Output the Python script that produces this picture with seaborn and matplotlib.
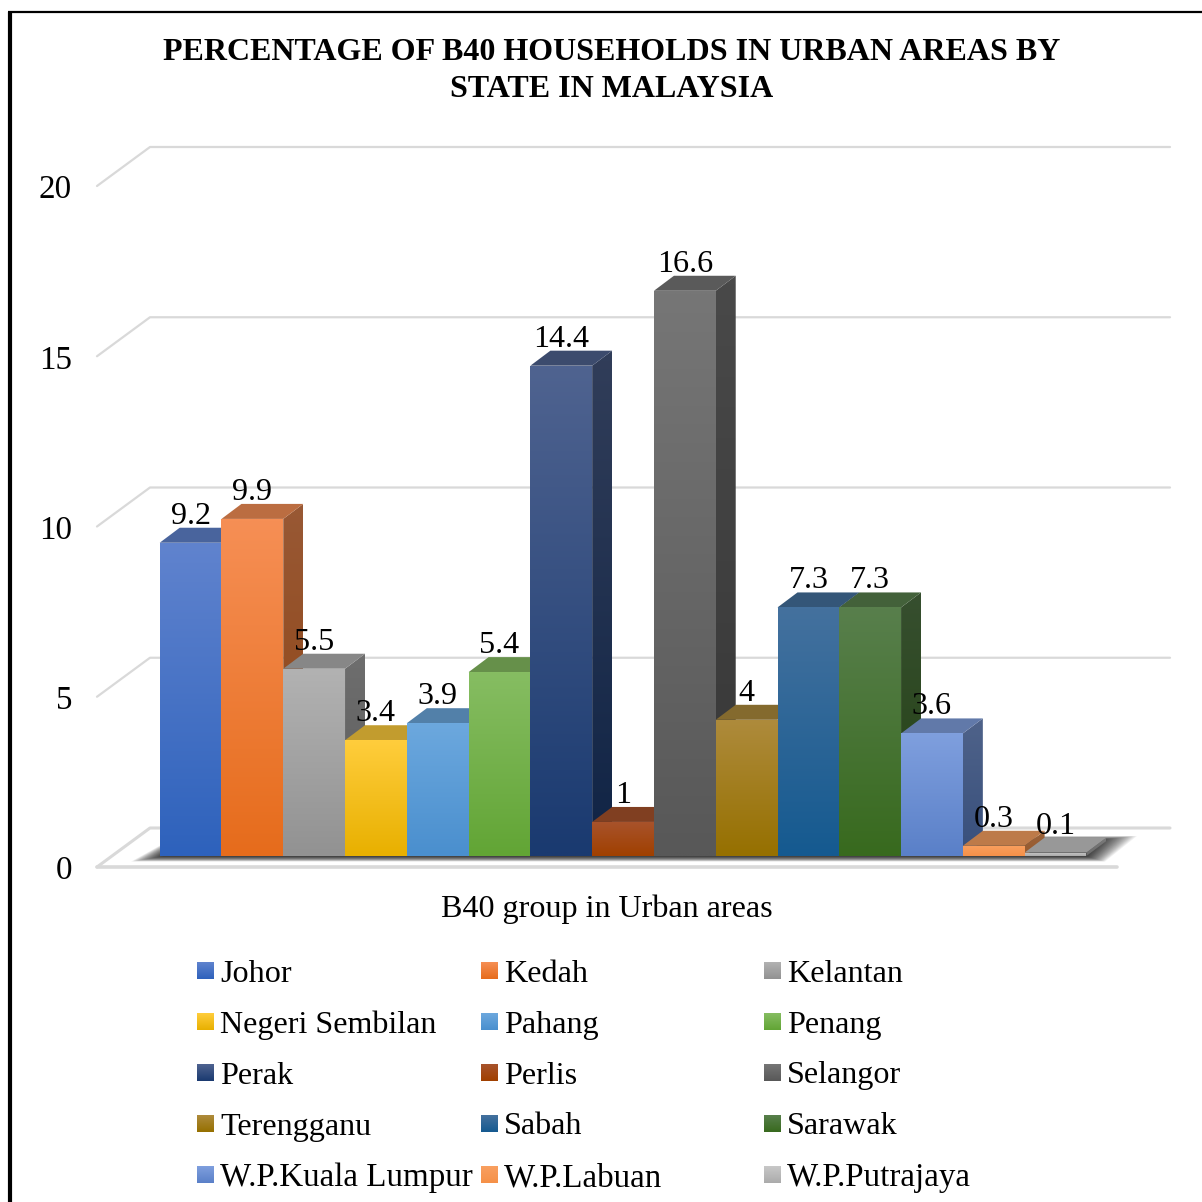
import numpy as np
import matplotlib
matplotlib.use("Agg")
import matplotlib.pyplot as plt
from matplotlib.colors import to_rgb
from matplotlib.patches import Polygon
import seaborn as sns

### Percentage of B40 households, fake 3D bars ###

states = ["Johor", "Kedah", "Kelantan", "Negeri Sembilan", "Pahang", "Penang", "Perak", "Perlis",
          "Selangor", "Terengganu", "Sabah", "Sarawak", "W.P.Kuala Lumpur", "W.P.Labuan", "W.P.Putrajaya"]
values = [9.2, 9.9, 5.5, 3.4, 3.9, 5.4, 14.4, 1, 16.6, 4, 7.3, 7.3, 3.6, 0.3, 0.1]
y_ticks = [0, 5, 10, 15, 20]

# gradient colours, top of bar -> bottom of bar
colors_top = ["#6083CE", "#F68F55", "#B2B2B2", "#FFCD3C", "#6CA8DE", "#86BD62", "#4F6390", "#A8532C",
              "#767676", "#AE8B3C", "#44719E", "#587F4C", "#7F9FDE", "#F9A060", "#C8C8C8"]
colors_bot = ["#2E62BC", "#E66C1C", "#929292", "#E8B000", "#4A8FCE", "#62A535", "#1A3A70", "#A04000",
              "#585858", "#967000", "#155A90", "#386A1E", "#5A80C8", "#F59048", "#ABABAB"]

title = "PERCENTAGE OF B40 HOUSEHOLDS IN URBAN AREAS BY\nSTATE IN MALAYSIA"
x_title = "B40 group in Urban areas"

# layout, in pixels of the 1202 picture
W = 1202
BAR_LEFT = 159.7
BAR_W = 61.78
BASE = 856
PX_UNIT = 34.05
DX, DY = 20 / BAR_W, 15 / PX_UNIT
FONT = 23.1
FONT_LEG = 23.1
FONT_LEG_WP = 23.8


def px_x(p):
    return (p - BAR_LEFT) / BAR_W - 0.5


def px_y(p):
    return (BASE - p) / PX_UNIT


def grad(ax, pts, c1, c2, z):
    # vertical gradient clipped to a polygon
    pts = np.array(pts)
    rgb = np.linspace(to_rgb(c1), to_rgb(c2), 64).reshape(64, 1, 3)
    im = ax.imshow(rgb, extent=(pts[:, 0].min(), pts[:, 0].max(), pts[:, 1].min(), pts[:, 1].max()),
                   aspect="auto", origin="upper", zorder=z, interpolation="bilinear")
    im.set_clip_path(Polygon(pts, transform=ax.transData))


def shade(c, f):
    return tuple(v * f for v in to_rgb(c))


sns.set_theme(style="white")
plt.rcParams["font.family"] = ["Liberation Serif", "DejaVu Serif"]

fig = plt.figure(figsize=(W / 100, W / 100), dpi=100)
ax = fig.add_axes([0, 0, 1, 1])

sns.barplot(x=states, y=values, hue=states, palette=colors_bot, width=1, legend=False, ax=ax)

# walls
grid_c = "#D9D9D9"
for v in y_ticks:
    lw = 2.2 if v == 0 else 1.6
    xs = [px_x(97), px_x(150), px_x(1170)]
    ys = [px_y(867) + v, px_y(828) + v, px_y(828) + v]
    ax.plot(xs, ys, color=grid_c, lw=lw, zorder=1, solid_capstyle="round")
    ax.text(px_x(72), px_y(871) + v, str(v), ha="right", va="center", fontsize=FONT + 0.7, color="black")
ax.plot([px_x(97), px_x(1117)], [px_y(867), px_y(867)], color=grid_c, lw=2.6, zorder=1)

# floor shadow, stacked see-through polygons so the edge fades
for k in np.linspace(40, 0, 26):
    pts = [(px_x(165 - k * 0.85), px_y(856 + k * 0.14)), (px_x(1085 + k * 0.5), px_y(856 + k * 0.14)),
           (px_x(1097 + k), px_y(840 - k * 0.1)), (px_x(185 - k * 0.2), px_y(840 - k * 0.1))]
    ax.add_patch(Polygon(pts, closed=True, fc="black", ec="none", alpha=0.05, zorder=1.5))

# bars left to right, each one covers the side of the one before
for i, (bar, v) in enumerate(zip(ax.patches, values)):
    z = 3 + i
    x0, x1 = bar.get_x(), bar.get_x() + bar.get_width()
    bar.set_visible(False)
    top_c, bot_c = colors_top[i], colors_bot[i]
    # side
    side = [(x1, 0), (x1 + DX, DY), (x1 + DX, v + DY), (x1, v)]
    grad(ax, side, shade(top_c, 0.62), shade(bot_c, 0.62), z)
    # top
    roof = [(x0, v), (x1, v), (x1 + DX, v + DY), (x0 + DX, v + DY)]
    ax.add_patch(Polygon(roof, closed=True, fc=shade(top_c, 0.76), ec="none", zorder=z + 0.1))
    # front
    front = [(x0, 0), (x1, 0), (x1, v), (x0, v)]
    grad(ax, front, top_c, bot_c, z + 0.2)

for i, v in enumerate(values):
    ax.text(i, v + 26.5 / PX_UNIT, f"{v:g}", ha="center", va="center", fontsize=FONT, color="black", zorder=30)

ax.set_xlim(px_x(0), px_x(W))
ax.set_ylim(px_y(W), px_y(0))
ax.axis("off")

# title and axis title
ax.text(px_x(612), px_y(71), title, ha="center", va="center", fontsize=23.0, fontweight="bold",
        color="black", linespacing=1.36, zorder=30)
ax.text(px_x(607), px_y(909), x_title, ha="center", va="center", fontsize=FONT, color="black", zorder=30)

# legend by hand, filled row by row with gradient swatches
col_px = [197, 481, 764]
row_px = [971, 1022, 1073, 1124, 1175]
for i, name in enumerate(states):
    r, c = divmod(i, 3)
    sx, sy = col_px[c], row_px[r]
    sw = [(px_x(sx), px_y(sy + 8)), (px_x(sx + 17), px_y(sy + 8)), (px_x(sx + 17), px_y(sy - 9)), (px_x(sx), px_y(sy - 9))]
    grad(ax, sw, colors_top[i], colors_bot[i], 20)
    fs = FONT_LEG_WP if name.startswith("W.P.") else FONT_LEG
    ax.text(px_x(sx + 23), px_y(sy + 3), name, ha="left", va="center", fontsize=fs, color="black", zorder=30)

# frame of the pasted picture, left and top only
ax.plot([px_x(10), px_x(10)], [px_y(W), px_y(12)], color="black", lw=3, zorder=40, solid_capstyle="butt")
ax.plot([px_x(8), px_x(W)], [px_y(12), px_y(12)], color="black", lw=1.6, zorder=40, solid_capstyle="butt")

ax.set_xlim(px_x(0), px_x(W))
ax.set_ylim(px_y(W), px_y(0))

fig.savefig("out.png", dpi=100)
